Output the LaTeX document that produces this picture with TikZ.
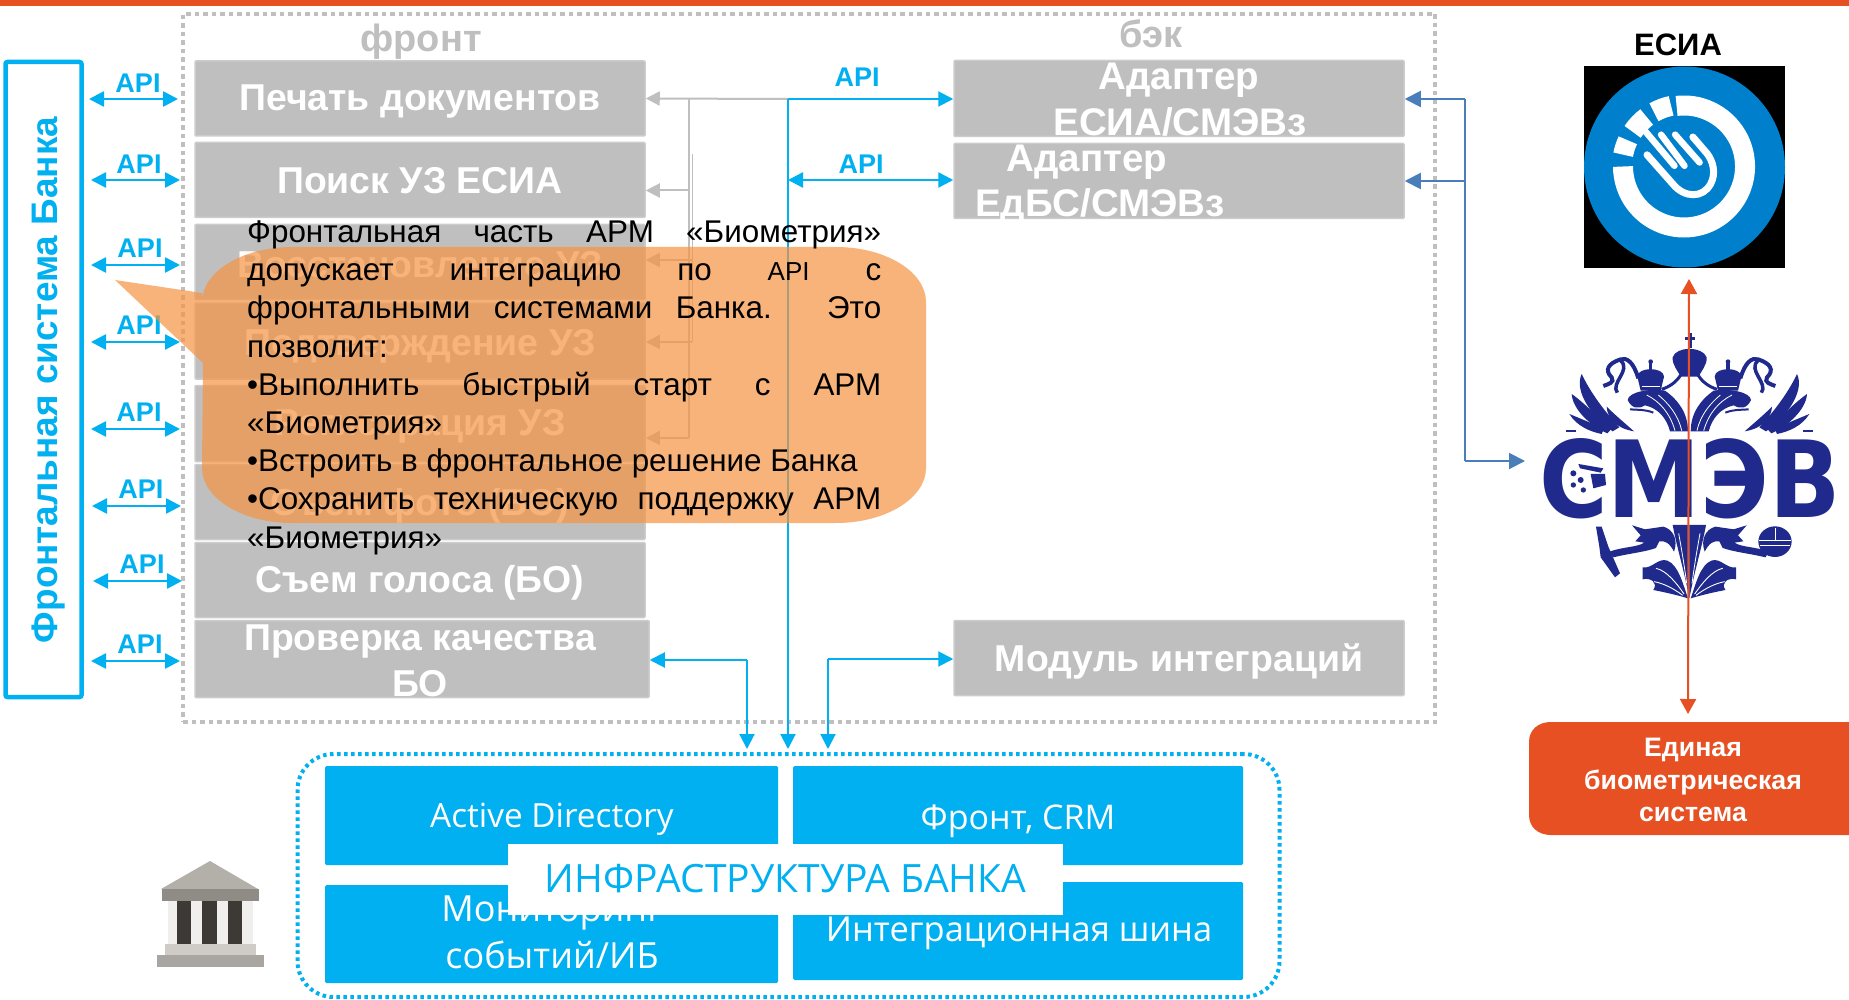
\documentclass[tikz,border=0pt]{standalone}
\usepackage{fontspec}
\setmainfont{Liberation Sans}
\newfontfamily\opensans{Open Sans}
\newfontfamily\dejabold{DejaVu Sans}[BoldFont={DejaVu Sans Bold}]
\usetikzlibrary{arrows.meta,calc}
\definecolor{cyanb}{HTML}{00B0F0}
\definecolor{greyb}{HTML}{BFBFBF}
\definecolor{redb}{HTML}{E65022}
\definecolor{steel}{HTML}{4A7EBB}
\definecolor{smev}{HTML}{1F2A8C}
\definecolor{calloutc}{HTML}{F59441}
\definecolor{esia}{HTML}{0080CC}
\definecolor{bankroof}{HTML}{B3AFA9}
\definecolor{bankbeam}{HTML}{8F8B85}
\definecolor{bankback}{HTML}{F0EFEE}
\definecolor{bankcol}{HTML}{3D3A36}
\definecolor{bankstep}{HTML}{CFCCC8}
\definecolor{bankbase}{HTML}{A9A5A0}
\newcommand\fsz[1]{\fontsize{#1}{#1}\selectfont}
\newcommand\halfeagle{%
  % side crown
  \fill[smev] (322,170) .. controls (322,140) and (402,140) .. (402,170) -- (392,212) -- (332,212) -- cycle;
  \fill[smev] (357,120) rectangle (367,150);
  \fill[smev] (362,125) circle (7);
  \draw[white,line width=.6pt] (335,198) -- (390,198);
  % ribbon from central crown to side head
  \draw[smev,line width=3pt] (452,165) .. controls (440,185) and (420,200) .. (395,208);
  % head and neck
  \fill[smev] (293,240) .. controls (296,215) and (360,205) .. (405,212)
    .. controls (445,240) and (474,280) .. (474,334) -- (420,334)
    .. controls (410,295) and (385,265) .. (345,256) .. controls (325,268) and (305,266) .. (293,240) -- cycle;
  \draw[white,line width=.8pt] (350,225) .. controls (390,245) and (420,280) .. (435,332);
  \draw[white,line width=.8pt] (385,225) .. controls (415,250) and (445,285) .. (455,332);
  \draw[smev,line width=2pt] (300,268) .. controls (325,270) and (345,268) .. (370,278);
  % tongue ribbon
  \draw[smev,line width=4pt] (325,175) .. controls (310,125) and (290,112) .. (272,118)
    .. controls (235,130) and (222,150) .. (245,172) .. controls (255,188) and (235,192) .. (220,198);
  \draw[smev,line width=3.5pt] (272,122) .. controls (305,150) and (240,190) .. (262,218);
  % wing feathers
  \fill[smev] (155,162) .. controls (130,215) and (190,295) .. (248,334) -- (268,322) .. controls (220,270) and (180,215) .. (155,162) -- cycle;
  \fill[smev] (125,222) .. controls (128,270) and (185,320) .. (232,340) -- (245,326) .. controls (205,295) and (165,250) .. (125,222) -- cycle;
  \fill[smev] (118,282) .. controls (140,318) and (180,335) .. (215,342) -- (222,326) .. controls (190,312) and (150,295) .. (118,282) -- cycle;
  \fill[smev] (230,260) .. controls (232,295) and (258,325) .. (312,334) .. controls (285,310) and (255,285) .. (230,260) -- cycle;
  \fill[smev] (108,330) rectangle (138,336);
  % lower wing
  \fill[smev] (306,616) -- (345,628) -- (400,620) .. controls (430,628) and (445,660) .. (432,695)
    .. controls (418,668) and (405,662) .. (388,664) -- (378,684) .. controls (345,696) and (300,700) .. (250,712) -- (238,695)
    .. controls (280,680) and (322,682) .. (343,668) -- (316,664) -- (332,646) -- cycle;
  % tail
  \fill[smev] (428,615) -- (478,615) -- (478,835) .. controls (462,750) and (440,680) .. (428,615) -- cycle;
  \draw[white,line width=.8pt] (446,640) .. controls (455,690) and (462,730) .. (470,790);
  \fill[smev] (338,742) .. controls (365,748) and (385,712) .. (412,722) .. controls (445,735) and (458,790) .. (474,835)
    .. controls (440,825) and (410,818) .. (370,810) .. controls (385,788) and (362,772) .. (338,778) -- cycle;
  \draw[white,line width=.9pt] (378,745) .. controls (410,752) and (440,790) .. (462,822);
  \draw[white,line width=.9pt] (372,785) .. controls (400,790) and (430,805) .. (458,826);
}
\begin{document}
\begin{tikzpicture}[x=1pt,y=-1pt,
  greybox/.style={fill=greyb,draw=greyb!80!white,line width=1.5pt,inner sep=0pt,rounded corners=1pt},
  boxtxt/.style={text=white,font=\bfseries\fsz{37.4},inner sep=0pt,align=center},
  cyanbox/.style={fill=cyanb,inner sep=0pt,rounded corners=1.5pt},
  infratxt/.style={text=white,font=\opensans\fsz{34},inner sep=0pt,align=center},
  apitxt/.style={text=cyanb,font=\bfseries\fsz{27},inner sep=0pt},
  headtxt/.style={text=greyb,font=\bfseries\fsz{38},inner sep=0pt},
  cyanarrow/.style={draw=cyanb,line width=2pt},
  apiarrow/.style={draw=cyanb,line width=2.6pt,{Triangle[length=15pt,width=15pt]}-{Triangle[length=15pt,width=15pt]}},
  tipc/.style={-{Triangle[length=15pt,width=15pt]}},
  tipg/.style={draw=greyb,line width=2pt,-{Triangle[length=14pt,width=14pt]}},
  tips/.style={draw=steel,line width=2pt,-{Triangle[length=16pt,width=16pt]}},
]
\useasboundingbox (0,0) rectangle (1849,1000);
\fill[white] (0,0) rectangle (1849,1000);
\fill[redb] (0,0) rectangle (1849,6);

% big dotted frame
\node[draw=greyb,line width=4.5pt,dash pattern=on 4.5pt off 4pt,inner sep=0pt,minimum width=1252pt,minimum height=708pt] (frame) at (809,368) {};
\node[headtxt] (hfront) at (421,42) {фронт};
\node[headtxt] (hback) at (1151,34) {бэк};

% left frame
\node[draw=cyanb,line width=4.5pt,fill=white,inner sep=0pt,rounded corners=2pt,minimum width=76pt,minimum height=635pt] (bank) at (43.5,379.5) {};
\node[text=cyanb,font=\bfseries\fsz{36},rotate=90,inner sep=0pt] (banktxt) at (49,380) {\resizebox{526pt}{!}{Фронтальная система Банка}};

% front boxes
\node[greybox,minimum width=450pt,minimum height=75pt] (f1) at (420,98.5) {};
\node[greybox,minimum width=450pt,minimum height=75pt] (f2) at (420,180) {};
\node[greybox,minimum width=450pt,minimum height=75pt] (f3) at (420,262) {};
\node[greybox,minimum width=450pt,minimum height=76pt] (f4) at (420,341) {};
\node[greybox,minimum width=450pt,minimum height=76pt] (f5) at (420,423.5) {};
\node[greybox,minimum width=450pt,minimum height=75pt] (f6) at (420,502) {};
\node[greybox,minimum width=450pt,minimum height=75pt] (f7) at (420,580) {};
\node[greybox,minimum width=454pt,minimum height=77pt] (f8) at (422,659) {};
\node[boxtxt] (t1) at (420,102) {Печать документов};
\node[boxtxt] (t2) at (420,180.5) {Поиск УЗ ЕСИА};
\node[boxtxt] (t3) at (420,265) {Восстановление УЗ};
\node[boxtxt] (t4) at (420,346) {Подтверждение УЗ};
\node[boxtxt] (t5) at (420,426) {Регистрация УЗ};
\node[boxtxt] (t6) at (420,506) {Съем фото (БО)};
\node[boxtxt] (t7) at (420,583) {Съем голоса (БО)};
\node[boxtxt] (t8a) at (420,642) {Проверка качества};
\node[boxtxt] (t8b) at (420,684) {БО};

% back boxes
\node[greybox,minimum width=450pt,minimum height=76pt] (a1) at (1179,98.5) {};
\node[greybox,minimum width=450pt,minimum height=75pt] (a2) at (1179,181) {};
\node[greybox,minimum width=450pt,minimum height=75pt] (m) at (1179,658) {};
\node[boxtxt,font=\bfseries\fsz{38.5}] (ta1a) at (1179,80) {Адаптер};
\node[boxtxt,font=\bfseries\fsz{38.5}] (ta1b) at (1180,122) {ЕСИА/СМЭВз};
\node[boxtxt,font=\bfseries\fsz{38.5}] (ta2a) at (1087,162) {Адаптер};
\node[boxtxt,font=\bfseries\fsz{38.5}] (ta2b) at (1100,206) {ЕдБС/СМЭВз};
\node[boxtxt] (tm) at (1179,661) {Модуль интеграций};

% API arrows on the left
\foreach \n/\ya/\xa/\xb/\xl/\yl in {1/99/89/178/138/83,2/180/91/180/139/164,3/265/91/180/140/248,4/342/91/180/139/325,5/429/91/180/139/412,6/506/92/181/141/489,7/581/93/182/142/564,8/661/91/180/140/644}{
  \coordinate (al\n) at (\xa,\ya);
  \coordinate (ar\n) at (\xb,\ya);
  \draw[apiarrow] (al\n) -- (ar\n);
  \node[apitxt] (api\n) at (\xl,\yl) {API};
}

% grey distribution lines
\coordinate (j1) at (788,99);
\coordinate (gv1) at (689,99);
\coordinate (gv2) at (689,190.5);
\coordinate (gv3) at (692,260);
\coordinate (gv4) at (692,342);
\coordinate (gv5) at (689,438);
\coordinate (gt) at (692,154);
\draw[tipg] (j1) -- (f1.east);
\draw[draw=greyb,line width=1.5pt] (gv1) -- (gv5);
\draw[draw=greyb,line width=1pt] (gt) -- (gv4);
\draw[tipg] (gv2) -- (f2.east |- gv2);
\draw[tipg] (gv3) -- (f3.east |- gv3);
\draw[tipg] (gv4) -- (f4.east |- gv4);
\draw[tipg] (gv5) -- (f5.east |- gv5);

% infrastructure
\node[draw=cyanb,line width=4pt,dash pattern=on 3.5pt off 3.5pt,rounded corners=36pt,inner sep=0pt,minimum width=982pt,minimum height=243pt] (infra) at (788.5,875.5) {};

% cyan connectors
\coordinate (k1) at (747,660);
\coordinate (k2) at (828,659);
\coordinate (j2) at (788,180);
\draw[cyanarrow,tipc] (j1) -- (a1.west |- j1);
\draw[cyanarrow,tipc,shorten >=3pt] (j1) -- (j1 |- infra.north);
\draw[apiarrow] (j2) -- (a2.west |- j2);
\draw[cyanarrow,tipc] (k1) -- (f8.east |- k1);
\draw[cyanarrow,tipc,shorten >=3pt] (k1) -- (k1 |- infra.north);
\draw[cyanarrow,tipc] (k2) -- (m.west |- k2);
\draw[cyanarrow,tipc,shorten >=3pt] (k2) -- (k2 |- infra.north);
\node[apitxt] (api9) at (857,77) {API};
\node[apitxt] (api10) at (861,164) {API};

% callout
\path[fill=calloutc,fill opacity=.7] (202,302)
  .. controls (202,272) and (242,247) .. (292,247) -- (836,247)
  .. controls (886,247) and (926,272) .. (926,302) -- (926,468)
  .. controls (926,498) and (886,523) .. (836,523) -- (292,523)
  .. controls (242,523) and (202,498) .. (202,468) -- (203,363) -- (115,280) -- (202,293) -- cycle;
\node[inner sep=0pt,text width=634pt,align=justify,anchor=north west] (ctext) at (247,220.5) {%
  \fontsize{31.4}{38.2}\selectfont\hyphenpenalty=10000\tolerance=10000\emergencystretch=200pt
  Фронтальная часть АРМ «Биометрия»\linebreak
  допускает интеграцию по {\fontsize{26}{38.2}\selectfont API} с\linebreak
  фронтальными системами Банка. Это\linebreak
  позволит:\newline
  •Выполнить быстрый старт с АРМ\linebreak
  «Биометрия»\newline
  •Встроить в фронтальное решение Банка\newline
  •Сохранить техническую поддержку АРМ\linebreak
  «Биометрия»\par};

% infrastructure boxes
\node[cyanbox,minimum width=453pt,minimum height=99pt] (tl) at (551.5,815.5) {};
\node[cyanbox,minimum width=450pt,minimum height=99pt] (tr) at (1018,815.5) {};
\node[cyanbox,minimum width=453pt,minimum height=98pt] (bl) at (551.5,934) {};
\node[cyanbox,minimum width=450pt,minimum height=98pt] (br) at (1018,931) {};
\node[infratxt,font=\opensans\fsz{33.3}] (itl) at (552,819) {Active Directory};
\node[infratxt] (itr) at (1018,821) {Фронт, CRM};
\node[infratxt,font=\opensans\fsz{36}] (ibl1) at (552,913) {Мониторинг};
\node[infratxt,font=\opensans\fsz{36}] (ibl2) at (552,955) {событий/ИБ};
\node[infratxt,font=\opensans\fsz{34.4}] (ibr) at (1019,933) {Интеграционная шина};
\node[fill=white,inner sep=0pt,minimum width=555pt,minimum height=71pt,text=cyanb,font=\opensans\fsz{39}] (center) at (785.5,879) {ИНФРАСТРУКТУРА БАНКА};

% bank icon
\fill[bankroof] (210,861) -- (258,889) -- (161,889) -- cycle;
\fill[bankbeam] (162,889) rectangle (259,901);
\fill[bankback] (168,901) rectangle (253,944);
\fill[bankcol] (177,901) rectangle (191,944);
\fill[bankcol] (202,901) rectangle (217,944);
\fill[bankcol] (228,901) rectangle (242,944);
\fill[bankstep] (165,944) rectangle (256,955);
\fill[bankbase] (157,955) rectangle (264,967);

% right connectors
\coordinate (r0) at (1465,461);
\coordinate (r1) at (1465,99);
\coordinate (r2) at (1465,181);
\coordinate (rs) at (1525,461);
\draw[tips] (r1) -- (a1.east |- r1);
\draw[tips] (r2) -- (a2.east |- r2);
\draw[draw=steel,line width=2pt] (r1) -- (r0);
\draw[tips] (r0) -- (rs);

% ESIA
\node[text=black,font=\bfseries\fsz{31},inner sep=0pt] (esiat) at (1678,45) {ЕСИА};
\fill[black] (1584,66) rectangle (1785,268);
\fill[esia] (1684.5,167) circle [radius=100.5pt];
\begin{scope}[x=1pt,y=1pt,shift={(1684pt,-166.5pt)}]
  \draw[white,line width=20pt,line cap=butt] (97:61pt) arc [start angle=97,end angle=-180,radius=61pt];
  \draw[white,line width=20pt] (155:62pt) arc [start angle=155,end angle=169,radius=62pt];
  \draw[white,line width=20pt] (127:62pt) arc [start angle=127,end angle=146,radius=62pt];
  \draw[white,line width=20pt] (102:62pt) arc [start angle=102,end angle=119,radius=62pt];
\end{scope}
\begin{scope}[x=.335pt,y=-.335pt,shift={(1584pt,-66pt)},line cap=round,line join=round]
  \draw[white,line width=7pt] (188,265) -- (265,352) .. controls (300,395) and (355,395) .. (378,352) .. controls (395,320) and (385,285) .. (368,262) -- (325,212);
  \draw[white,line width=6.5pt] (172,182) -- (270,298);
  \draw[white,line width=6.5pt] (230,205) -- (300,298);
  \draw[white,line width=6.5pt] (272,205) -- (345,288);
\end{scope}

% SMEV emblem
\begin{scope}[x=.3333pt,y=-.3333pt,shift={(1530pt,-320pt)}]
  \halfeagle
  \fill[smev] (428,112) .. controls (438,78) and (518,78) .. (530,112) .. controls (532,135) and (512,155) .. (506,170) -- (452,170) .. controls (445,155) and (426,135) .. (428,112) -- cycle;
  \fill[smev] (473,40) rectangle (486,85);
  \fill[smev] (465,50) rectangle (494,60);
  \fill[smev] (198,620) -- (215,620) -- (235,680) -- (270,760) -- (255,772) -- (212,712) -- (208,680) -- cycle;
  \fill[smev] (735,665) ellipse [x radius=50,y radius=46];
  \draw[white,line width=.8pt] (688,660) -- (782,660) (690,675) -- (780,675) (735,625) -- (735,660);
\end{scope}
\begin{scope}[x=-.3333pt,y=-.3333pt,shift={(1848.67pt,-320pt)}]
  \halfeagle
\end{scope}
\node[inner sep=0pt,text=smev,font=\dejabold\bfseries] (smevt) at (1690,479) {\resizebox{302pt}{79pt}{СМЭВ}};
\begin{scope}[x=.3333pt,y=-.3333pt,shift={(1530pt,-320pt)}]
  \fill[white] (122,470) -- (140,428) -- (225,440) -- (225,505) -- (150,525) -- cycle;
  \fill[smev] (145,432) -- (220,445) -- (212,458) -- (150,445) -- cycle;
  \fill[smev] (182,462) -- (225,462) -- (228,495) -- (190,505) -- cycle;
  \fill[smev] (130,460) circle (9) (152,480) circle (9) (130,495) circle (8) (160,510) circle (8);
\end{scope}

% red arrow
\coordinate (e1) at (1689,279);
\coordinate (e2) at (1688,714);
\draw[draw=redb,line width=2pt,{Triangle[length=15pt,width=16pt]}-{Triangle[length=15pt,width=16pt]}] (e1) -- (e2);

% EBS box
\fill[redb] (1849,722) -- (1551,722) .. controls (1538,722) and (1529,730) .. (1529,742) -- (1529,815) .. controls (1529,827) and (1538,835) .. (1551,835) -- (1849,835) -- cycle;
\node[text=white,font=\bfseries\fontsize{26.7}{32.4}\selectfont,inner sep=0pt,align=center] (ebs) at (1693,780) {Единая\\биометрическая\\система};
\end{tikzpicture}
\end{document}
